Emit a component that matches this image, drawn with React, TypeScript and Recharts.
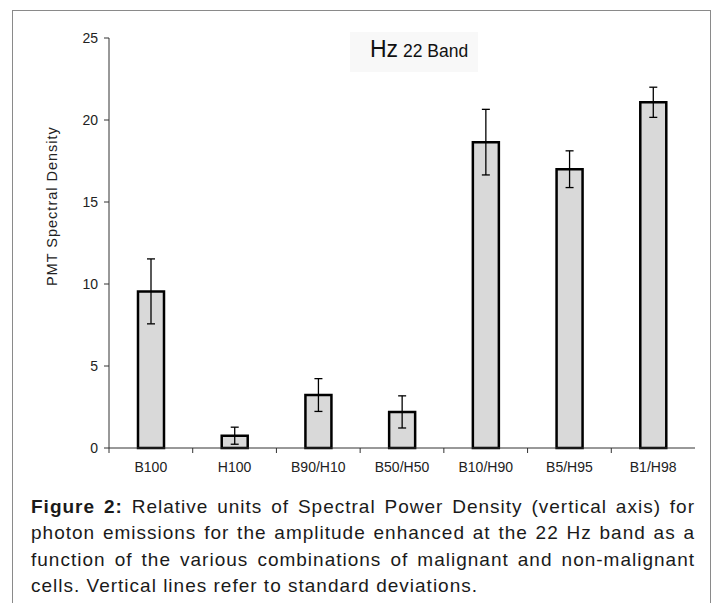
import React from 'react';
import { BarChart, Bar, XAxis, YAxis, ErrorBar } from 'recharts';

const categories = ['B100', 'H100', 'B90/H10', 'B50/H50', 'B10/H90', 'B5/H95', 'B1/H98'];
const means = [9.55, 0.75, 3.23, 2.2, 18.65, 17.0, 21.08];
const sds = [1.98, 0.52, 1.0, 0.98, 2.0, 1.12, 0.92];
const yTicks = [0, 5, 10, 15, 20, 25];

const data = categories.map((c, i) => ({ name: c, mean: means[i], sd: sds[i] }));

const FONT = '"Liberation Sans", Arial, Helvetica, sans-serif';

const XTick = (props: any) => {
  const { x, y, payload, width, visibleTicksCount } = props;
  const band = width / visibleTicksCount;
  const axisY = y - 9;
  return (
    <g>
      <line x1={x - band / 2} x2={x - band / 2} y1={axisY} y2={axisY + 5} stroke="#333" strokeWidth={1} />
      <text x={x} y={y} dy="1.05em" textAnchor="middle" fontSize={14} fill="#222" fontFamily={FONT}>
        {payload.value}
      </text>
    </g>
  );
};

const YLabel = (props: any) => {
  const vb = props.viewBox || {};
  const cx = vb.x + vb.width * 0.48;
  const cy = vb.y + vb.height * 0.41;
  return (
    <text
      x={cx}
      y={cy}
      transform={`rotate(-90, ${cx}, ${cy})`}
      textAnchor="middle"
      dominantBaseline="central"
      fontSize={14.5}
      letterSpacing={1}
      fill="#222"
      fontFamily={FONT}
    >
      PMT Spectral Density
    </text>
  );
};

export default function App() {
  return (
    <div style={{ position: 'absolute', left: 0, top: 0, width: 718, height: 603, overflow: 'hidden', background: '#fff', fontFamily: FONT }}>
      <div
        style={{
          position: 'absolute',
          left: 12,
          top: 10,
          width: 697,
          height: 620,
          borderTop: '1px solid #8a8a8a',
          borderLeft: '1px solid #8a8a8a',
          borderRight: '1px solid #8a8a8a',
        }}
      />
      <div style={{ position: 'absolute', left: 0, top: 0 }}>
        <BarChart width={718} height={480} data={data} margin={{ top: 38, right: 23, bottom: 2, left: 0 }}>
          <XAxis
            dataKey="name"
            height={30}
            tickLine={false}
            tickSize={5}
            tickMargin={4}
            axisLine={{ stroke: '#333', strokeWidth: 1 }}
            tick={<XTick />}
            interval={0}
          />
          <YAxis
            width={109}
            domain={[0, 25]}
            ticks={yTicks}
            tickSize={5}
            tickMargin={6}
            axisLine={{ stroke: '#333', strokeWidth: 1 }}
            tickLine={{ stroke: '#333', strokeWidth: 1 }}
            tick={{ fontSize: 14, fill: '#222', fontFamily: FONT }}
            label={{ content: <YLabel /> }}
          />
          <Bar dataKey="mean" fill="#d9d9d9" stroke="#000" strokeWidth={2.5} barSize={26} isAnimationActive={false}>
            <ErrorBar dataKey="sd" width={4} stroke="#000" strokeWidth={1.3} direction="y" isAnimationActive={false} />
          </Bar>
        </BarChart>
      </div>
      <div
        style={{
          position: 'absolute',
          left: 350,
          top: 32,
          width: 128,
          height: 40,
          background: '#f8f8f8',
        }}
      />
      <div style={{ position: 'absolute', left: 370, top: 35, whiteSpace: 'nowrap', color: '#111', lineHeight: '28px' }}>
        <span style={{ fontSize: 23 }}>Hz</span>
        <span style={{ fontSize: 17.5 }}> 22 Band</span>
      </div>
      <div style={{ position: 'absolute', left: 31, top: 494, width: 664, fontSize: 19, lineHeight: '26.4px', letterSpacing: '1px', color: '#1a1a1a' }}>
        <div style={{ textAlign: 'justify', textAlignLast: 'justify' }}>
          <b>Figure 2:</b> Relative units of Spectral Power Density (vertical axis) for
        </div>
        <div style={{ textAlign: 'justify', textAlignLast: 'justify' }}>
          photon emissions for the amplitude enhanced at the 22 Hz band as a
        </div>
        <div style={{ textAlign: 'justify', textAlignLast: 'justify' }}>
          function of the various combinations of malignant and non-malignant
        </div>
        <div style={{ textAlign: 'left' }}>cells. Vertical lines refer to standard deviations.</div>
      </div>
    </div>
  );
}
